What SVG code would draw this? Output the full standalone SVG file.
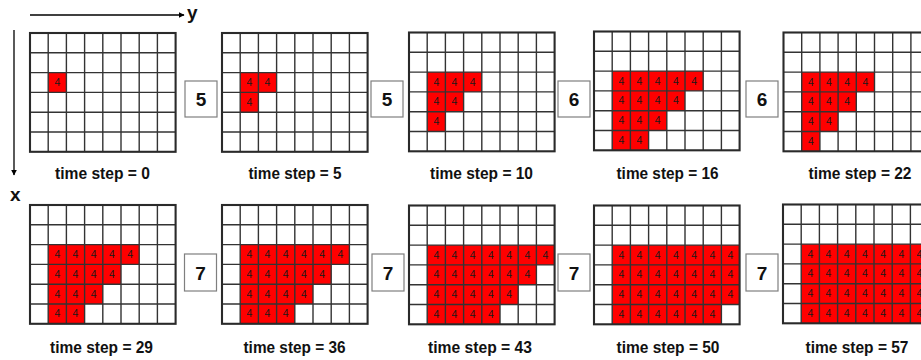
<svg xmlns="http://www.w3.org/2000/svg" xmlns:xlink="http://www.w3.org/1999/xlink" width="921" height="360" viewBox="0 0 921 360">
<style>
.bg{fill:#fff}
.red{fill:#ff0000}
.gl{fill:none;stroke:#333;stroke-width:1.4}
.go{fill:none;stroke:#2a2a2a;stroke-width:2.1}
.n{font-family:"Liberation Sans",Arial,sans-serif;font-size:10.5px;fill:#1a1a1a;text-anchor:middle}
.ts{font-family:"Liberation Sans",Arial,sans-serif;font-size:17px;font-weight:bold;fill:#111;text-anchor:middle}
.box{fill:#fff;stroke:#7f7f7f;stroke-width:1.2}
.bt{font-family:"Liberation Sans",Arial,sans-serif;font-size:19px;font-weight:bold;fill:#111;text-anchor:middle}
.ax{font-family:"Liberation Sans",Arial,sans-serif;font-size:19px;font-weight:bold;fill:#111}
.arr{stroke:#000;stroke-width:1.3;fill:none}
</style>
<defs>
<marker id="ah" viewBox="0 0 10 10" refX="9" refY="5" markerWidth="6" markerHeight="6" markerUnits="userSpaceOnUse" orient="auto">
<path d="M0,0 L10,5 L0,10 z" fill="#000"/>
</marker>
<g id="grid">
<path class="gl" d="M18.2,0V118.8M36.4,0V118.8M54.6,0V118.8M72.8,0V118.8M91,0V118.8M109.2,0V118.8M127.4,0V118.8M0,19.8H145.6M0,39.6H145.6M0,59.4H145.6M0,79.2H145.6M0,99H145.6"/>
<rect class="go" x="0" y="0" width="145.6" height="118.8"/>
</g>
</defs>
<rect class="bg" x="0" y="0" width="921" height="360"/>

<g id="connectors">
<line class="arr" x1="30" y1="15" x2="184" y2="15" marker-end="url(#ah)"/>
<line class="arr" x1="14" y1="30" x2="14" y2="175" marker-end="url(#ah)"/>
</g>
<g id="axis-labels">
<text class="ax" x="187" y="19">y</text>
<text class="ax" x="10" y="201">x</text>
</g>

<!-- Grid 1 -->
<g id="grid1" transform="translate(30,33)">
<rect class="red" x="18.2" y="39.6" width="18.2" height="19.8"/>
<text class="n" x="27.3" y="53">4</text>
<use xlink:href="#grid" href="#grid"/>
</g>
<!-- Grid 2 -->
<g id="grid2" transform="translate(222,33)">
<rect class="red" x="18.2" y="39.6" width="36.4" height="19.8"/>
<rect class="red" x="18.2" y="59.4" width="18.2" height="19.8"/>
<text class="n" x="27.3" y="53">4</text><text class="n" x="45.5" y="53">4</text>
<text class="n" x="27.3" y="72.8">4</text>
<use xlink:href="#grid" href="#grid"/>
</g>
<!-- Grid 3 -->
<g id="grid3" transform="translate(409,32.5)">
<rect class="red" x="18.2" y="39.6" width="54.6" height="19.8"/>
<rect class="red" x="18.2" y="59.4" width="36.4" height="19.8"/>
<rect class="red" x="18.2" y="79.2" width="18.2" height="19.8"/>
<text class="n" x="27.3" y="53">4</text><text class="n" x="45.5" y="53">4</text><text class="n" x="63.7" y="53">4</text>
<text class="n" x="27.3" y="72.8">4</text><text class="n" x="45.5" y="72.8">4</text>
<text class="n" x="27.3" y="92.6">4</text>
<use xlink:href="#grid" href="#grid"/>
</g>
<!-- Grid 4 -->
<g id="grid4" transform="translate(594,31.5)">
<rect class="red" x="18.2" y="39.6" width="91" height="19.8"/>
<rect class="red" x="18.2" y="59.4" width="72.8" height="19.8"/>
<rect class="red" x="18.2" y="79.2" width="54.6" height="19.8"/>
<rect class="red" x="18.2" y="99" width="36.4" height="19.8"/>
<text class="n" x="27.3" y="53">4</text><text class="n" x="45.5" y="53">4</text><text class="n" x="63.7" y="53">4</text><text class="n" x="81.9" y="53">4</text><text class="n" x="100.1" y="53">4</text>
<text class="n" x="27.3" y="72.8">4</text><text class="n" x="45.5" y="72.8">4</text><text class="n" x="63.7" y="72.8">4</text><text class="n" x="81.9" y="72.8">4</text>
<text class="n" x="27.3" y="92.6">4</text><text class="n" x="45.5" y="92.6">4</text><text class="n" x="63.7" y="92.6">4</text>
<text class="n" x="27.3" y="112.4">4</text><text class="n" x="45.5" y="112.4">4</text>
<use xlink:href="#grid" href="#grid"/>
</g>
<!-- Grid 5 -->
<g id="grid5" transform="translate(783.5,32.5)">
<rect class="red" x="18.2" y="39.6" width="72.8" height="19.8"/>
<rect class="red" x="18.2" y="59.4" width="54.6" height="19.8"/>
<rect class="red" x="18.2" y="79.2" width="36.4" height="19.8"/>
<rect class="red" x="18.2" y="99" width="18.2" height="19.8"/>
<text class="n" x="27.3" y="53">4</text><text class="n" x="45.5" y="53">4</text><text class="n" x="63.7" y="53">4</text><text class="n" x="81.9" y="53">4</text>
<text class="n" x="27.3" y="72.8">4</text><text class="n" x="45.5" y="72.8">4</text><text class="n" x="63.7" y="72.8">4</text>
<text class="n" x="27.3" y="92.6">4</text><text class="n" x="45.5" y="92.6">4</text>
<text class="n" x="27.3" y="112.4">4</text>
<use xlink:href="#grid" href="#grid"/>
</g>
<!-- Grid 6 -->
<g id="grid6" transform="translate(30,205)">
<rect class="red" x="18.2" y="39.6" width="91" height="19.8"/>
<rect class="red" x="18.2" y="59.4" width="72.8" height="19.8"/>
<rect class="red" x="18.2" y="79.2" width="54.6" height="19.8"/>
<rect class="red" x="18.2" y="99" width="36.4" height="19.8"/>
<text class="n" x="27.3" y="53">4</text><text class="n" x="45.5" y="53">4</text><text class="n" x="63.7" y="53">4</text><text class="n" x="81.9" y="53">4</text><text class="n" x="100.1" y="53">4</text>
<text class="n" x="27.3" y="72.8">4</text><text class="n" x="45.5" y="72.8">4</text><text class="n" x="63.7" y="72.8">4</text><text class="n" x="81.9" y="72.8">4</text>
<text class="n" x="27.3" y="92.6">4</text><text class="n" x="45.5" y="92.6">4</text><text class="n" x="63.7" y="92.6">4</text>
<text class="n" x="27.3" y="112.4">4</text><text class="n" x="45.5" y="112.4">4</text>
<use xlink:href="#grid" href="#grid"/>
</g>
<!-- Grid 7 -->
<g id="grid7" transform="translate(222,205)">
<rect class="red" x="18.2" y="39.6" width="109.2" height="19.8"/>
<rect class="red" x="18.2" y="59.4" width="91" height="19.8"/>
<rect class="red" x="18.2" y="79.2" width="72.8" height="19.8"/>
<rect class="red" x="18.2" y="99" width="54.6" height="19.8"/>
<text class="n" x="27.3" y="53">4</text><text class="n" x="45.5" y="53">4</text><text class="n" x="63.7" y="53">4</text><text class="n" x="81.9" y="53">4</text><text class="n" x="100.1" y="53">4</text><text class="n" x="118.3" y="53">4</text>
<text class="n" x="27.3" y="72.8">4</text><text class="n" x="45.5" y="72.8">4</text><text class="n" x="63.7" y="72.8">4</text><text class="n" x="81.9" y="72.8">4</text><text class="n" x="100.1" y="72.8">4</text>
<text class="n" x="27.3" y="92.6">4</text><text class="n" x="45.5" y="92.6">4</text><text class="n" x="63.7" y="92.6">4</text><text class="n" x="81.9" y="92.6">4</text>
<text class="n" x="27.3" y="112.4">4</text><text class="n" x="45.5" y="112.4">4</text><text class="n" x="63.7" y="112.4">4</text>
<use xlink:href="#grid" href="#grid"/>
</g>
<!-- Grid 8 -->
<g id="grid8" transform="translate(409,205.5)">
<rect class="red" x="18.2" y="39.6" width="127.4" height="19.8"/>
<rect class="red" x="18.2" y="59.4" width="109.2" height="19.8"/>
<rect class="red" x="18.2" y="79.2" width="91" height="19.8"/>
<rect class="red" x="18.2" y="99" width="72.8" height="19.8"/>
<text class="n" x="27.3" y="53">4</text><text class="n" x="45.5" y="53">4</text><text class="n" x="63.7" y="53">4</text><text class="n" x="81.9" y="53">4</text><text class="n" x="100.1" y="53">4</text><text class="n" x="118.3" y="53">4</text><text class="n" x="136.5" y="53">4</text>
<text class="n" x="27.3" y="72.8">4</text><text class="n" x="45.5" y="72.8">4</text><text class="n" x="63.7" y="72.8">4</text><text class="n" x="81.9" y="72.8">4</text><text class="n" x="100.1" y="72.8">4</text><text class="n" x="118.3" y="72.8">4</text>
<text class="n" x="27.3" y="92.6">4</text><text class="n" x="45.5" y="92.6">4</text><text class="n" x="63.7" y="92.6">4</text><text class="n" x="81.9" y="92.6">4</text><text class="n" x="100.1" y="92.6">4</text>
<text class="n" x="27.3" y="112.4">4</text><text class="n" x="45.5" y="112.4">4</text><text class="n" x="63.7" y="112.4">4</text><text class="n" x="81.9" y="112.4">4</text>
<use xlink:href="#grid" href="#grid"/>
</g>
<!-- Grid 9 -->
<g id="grid9" transform="translate(594,205.5)">
<rect class="red" x="18.2" y="39.6" width="127.4" height="59.4"/>
<rect class="red" x="18.2" y="99" width="109.2" height="19.8"/>
<text class="n" x="27.3" y="53">4</text><text class="n" x="45.5" y="53">4</text><text class="n" x="63.7" y="53">4</text><text class="n" x="81.9" y="53">4</text><text class="n" x="100.1" y="53">4</text><text class="n" x="118.3" y="53">4</text><text class="n" x="136.5" y="53">4</text>
<text class="n" x="27.3" y="72.8">4</text><text class="n" x="45.5" y="72.8">4</text><text class="n" x="63.7" y="72.8">4</text><text class="n" x="81.9" y="72.8">4</text><text class="n" x="100.1" y="72.8">4</text><text class="n" x="118.3" y="72.8">4</text><text class="n" x="136.5" y="72.8">4</text>
<text class="n" x="27.3" y="92.6">4</text><text class="n" x="45.5" y="92.6">4</text><text class="n" x="63.7" y="92.6">4</text><text class="n" x="81.9" y="92.6">4</text><text class="n" x="100.1" y="92.6">4</text><text class="n" x="118.3" y="92.6">4</text><text class="n" x="136.5" y="92.6">4</text>
<text class="n" x="27.3" y="112.4">4</text><text class="n" x="45.5" y="112.4">4</text><text class="n" x="63.7" y="112.4">4</text><text class="n" x="81.9" y="112.4">4</text><text class="n" x="100.1" y="112.4">4</text><text class="n" x="118.3" y="112.4">4</text>
<use xlink:href="#grid" href="#grid"/>
</g>
<!-- Grid 10 -->
<g id="grid10" transform="translate(783,204.5)">
<rect class="red" x="18.2" y="39.6" width="127.4" height="79.2"/>
<text class="n" x="27.3" y="53">4</text><text class="n" x="45.5" y="53">4</text><text class="n" x="63.7" y="53">4</text><text class="n" x="81.9" y="53">4</text><text class="n" x="100.1" y="53">4</text><text class="n" x="118.3" y="53">4</text><text class="n" x="136.5" y="53">4</text>
<text class="n" x="27.3" y="72.8">4</text><text class="n" x="45.5" y="72.8">4</text><text class="n" x="63.7" y="72.8">4</text><text class="n" x="81.9" y="72.8">4</text><text class="n" x="100.1" y="72.8">4</text><text class="n" x="118.3" y="72.8">4</text><text class="n" x="136.5" y="72.8">4</text>
<text class="n" x="27.3" y="92.6">4</text><text class="n" x="45.5" y="92.6">4</text><text class="n" x="63.7" y="92.6">4</text><text class="n" x="81.9" y="92.6">4</text><text class="n" x="100.1" y="92.6">4</text><text class="n" x="118.3" y="92.6">4</text><text class="n" x="136.5" y="92.6">4</text>
<text class="n" x="27.3" y="112.4">4</text><text class="n" x="45.5" y="112.4">4</text><text class="n" x="63.7" y="112.4">4</text><text class="n" x="81.9" y="112.4">4</text><text class="n" x="100.1" y="112.4">4</text><text class="n" x="118.3" y="112.4">4</text><text class="n" x="136.5" y="112.4">4</text>
<use xlink:href="#grid" href="#grid"/>
</g>

<!-- step boxes -->
<g id="box1"><rect class="box" x="185" y="81" width="32" height="36"/><text class="bt" x="201" y="106">5</text></g>
<g id="box2"><rect class="box" x="371" y="81" width="32" height="36"/><text class="bt" x="387" y="106">5</text></g>
<g id="box3"><rect class="box" x="558" y="81" width="32" height="36"/><text class="bt" x="574" y="106">6</text></g>
<g id="box4"><rect class="box" x="746" y="81" width="32" height="36"/><text class="bt" x="762" y="106">6</text></g>
<g id="box5"><rect class="box" x="184.5" y="254" width="32" height="37"/><text class="bt" x="200.5" y="279.5">7</text></g>
<g id="box6"><rect class="box" x="372" y="254" width="32" height="37"/><text class="bt" x="388" y="279.5">7</text></g>
<g id="box7"><rect class="box" x="558" y="254" width="32" height="37"/><text class="bt" x="574" y="279.5">7</text></g>
<g id="box8"><rect class="box" x="746" y="254" width="32" height="37"/><text class="bt" x="762" y="279.5">7</text></g>

<!-- labels -->
<g id="labels">
<text class="ts" x="102.5" y="179" textLength="95" lengthAdjust="spacingAndGlyphs">time step = 0</text>
<text class="ts" x="295" y="179" textLength="93" lengthAdjust="spacingAndGlyphs">time step = 5</text>
<text class="ts" x="481.5" y="179" textLength="103" lengthAdjust="spacingAndGlyphs">time step = 10</text>
<text class="ts" x="667.5" y="179" textLength="102" lengthAdjust="spacingAndGlyphs">time step = 16</text>
<text class="ts" x="860" y="179" textLength="103" lengthAdjust="spacingAndGlyphs">time step = 22</text>
<text class="ts" x="101.5" y="352.5" textLength="103" lengthAdjust="spacingAndGlyphs">time step = 29</text>
<text class="ts" x="294.5" y="352.5" textLength="102" lengthAdjust="spacingAndGlyphs">time step = 36</text>
<text class="ts" x="480" y="352.5" textLength="104" lengthAdjust="spacingAndGlyphs">time step = 43</text>
<text class="ts" x="668" y="352.5" textLength="103" lengthAdjust="spacingAndGlyphs">time step = 50</text>
<text class="ts" x="857" y="352.5" textLength="103" lengthAdjust="spacingAndGlyphs">time step = 57</text>
</g>
</svg>
